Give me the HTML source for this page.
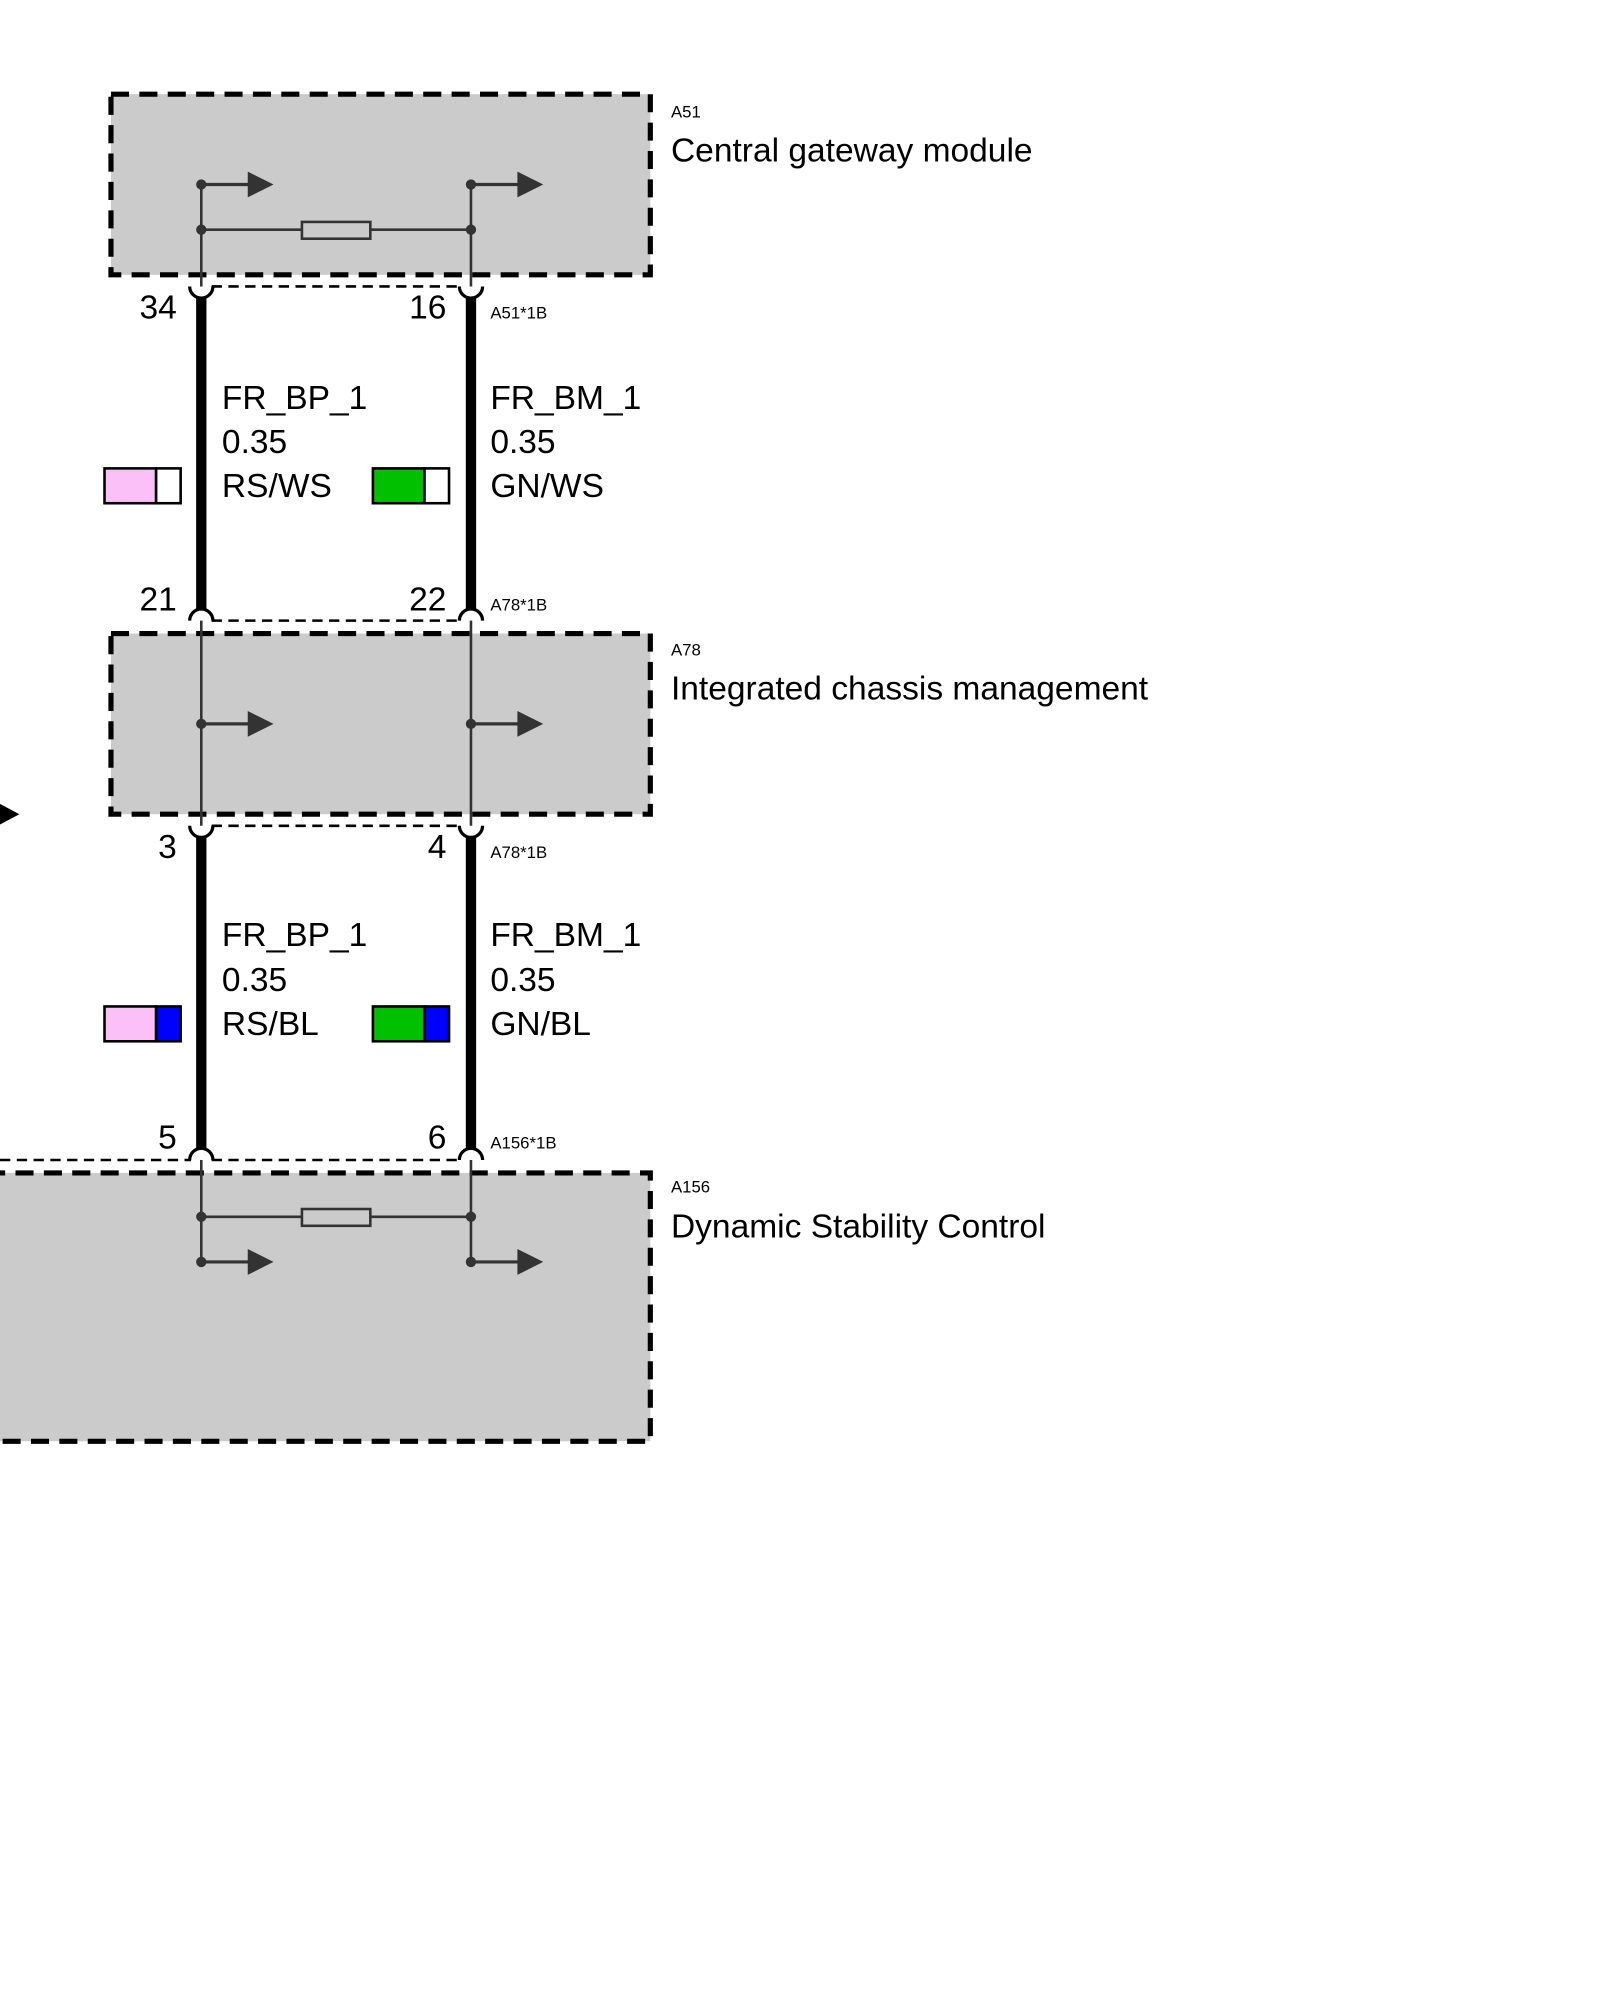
<!DOCTYPE html>
<html><head><meta charset="utf-8"><style>html,body{margin:0;padding:0;background:#fff}svg{display:block}</style></head>
<body>
<svg width="1600" height="2000" viewBox="0 0 1240 1550" xmlns="http://www.w3.org/2000/svg" font-family="Liberation Sans, Arial, sans-serif">
<defs>
<g id="arr"><line x1="0" y1="0" x2="38" y2="0" stroke="#333" stroke-width="2.5"/><polygon points="36,-10 56,0 36,10" fill="#333"/><circle cx="0" cy="0" r="4" fill="#333"/></g>
</defs>
<!-- boxes -->
<rect x="86" y="73" width="418" height="140" fill="#cbcbcb" stroke="#000" stroke-width="4" stroke-dasharray="14,8"/>
<rect x="86" y="491" width="418" height="140" fill="#cbcbcb" stroke="#000" stroke-width="4" stroke-dasharray="14,8"/>
<rect x="-10" y="909" width="514" height="208" fill="#cbcbcb" stroke="#000" stroke-width="4" stroke-dasharray="14,8"/>
<!-- A51 internals -->
<line x1="156" y1="143" x2="156" y2="222" stroke="#333" stroke-width="2"/>
<line x1="365" y1="143" x2="365" y2="222" stroke="#333" stroke-width="2"/>
<line x1="156" y1="178" x2="365" y2="178" stroke="#333" stroke-width="2"/>
<rect x="234" y="172" width="53" height="13" fill="#cbcbcb" stroke="#333" stroke-width="2"/>
<circle cx="156" cy="178" r="4" fill="#333"/><circle cx="365" cy="178" r="4" fill="#333"/>
<use href="#arr" x="156" y="143"/><use href="#arr" x="365" y="143"/>
<!-- A78 internals -->
<line x1="156" y1="481" x2="156" y2="640" stroke="#333" stroke-width="2"/>
<line x1="365" y1="481" x2="365" y2="640" stroke="#333" stroke-width="2"/>
<use href="#arr" x="156" y="561"/><use href="#arr" x="365" y="561"/>
<polygon points="0,623 15,631 0,639" fill="#000"/>
<!-- A156 internals -->
<line x1="156" y1="899" x2="156" y2="978" stroke="#333" stroke-width="2"/>
<line x1="365" y1="899" x2="365" y2="978" stroke="#333" stroke-width="2"/>
<line x1="156" y1="943" x2="365" y2="943" stroke="#333" stroke-width="2"/>
<rect x="234" y="937" width="53" height="13" fill="#cbcbcb" stroke="#333" stroke-width="2"/>
<circle cx="156" cy="943" r="4" fill="#333"/><circle cx="365" cy="943" r="4" fill="#333"/>
<use href="#arr" x="156" y="978"/><use href="#arr" x="365" y="978"/>
<!-- connector dashed lines -->
<g stroke="#000" stroke-width="2" stroke-dasharray="8,5" fill="none">
<line x1="164" y1="222" x2="357" y2="222"/>
<line x1="164" y1="481" x2="357" y2="481"/>
<line x1="164" y1="640" x2="357" y2="640"/>
<line x1="0" y1="899" x2="148" y2="899"/>
<line x1="164" y1="899" x2="357" y2="899"/>
</g>
<!-- pin arcs -->
<g stroke="#000" stroke-width="2.5" fill="none">
<path d="M147 222 A9 9 0 0 0 165 222"/><path d="M356 222 A9 9 0 0 0 374 222"/>
<path d="M147 481 A9 9 0 0 1 165 481"/><path d="M356 481 A9 9 0 0 1 374 481"/>
<path d="M147 640 A9 9 0 0 0 165 640"/><path d="M356 640 A9 9 0 0 0 374 640"/>
<path d="M147 899 A9 9 0 0 1 165 899"/><path d="M356 899 A9 9 0 0 1 374 899"/>
</g>
<!-- wires -->
<g stroke="#000" stroke-width="8">
<line x1="156" y1="230" x2="156" y2="473"/><line x1="365" y1="230" x2="365" y2="473"/>
<line x1="156" y1="648" x2="156" y2="891"/><line x1="365" y1="648" x2="365" y2="891"/>
</g>
<!-- swatches -->
<g stroke="#000" stroke-width="2">
<rect x="81" y="363" width="40" height="27" fill="#fbc0f8"/><rect x="121" y="363" width="19" height="27" fill="#fff"/>
<rect x="289" y="363" width="40" height="27" fill="#00c000"/><rect x="329" y="363" width="19" height="27" fill="#fff"/>
<rect x="81" y="780" width="40" height="27" fill="#fbc0f8"/><rect x="121" y="780" width="19" height="27" fill="#0000ff"/>
<rect x="289" y="780" width="40" height="27" fill="#00c000"/><rect x="329" y="780" width="19" height="27" fill="#0000ff"/>
</g>
<!-- text -->
<g font-size="26" fill="#000">
<text x="137" y="247" text-anchor="end">34</text><text x="346" y="247" text-anchor="end">16</text>
<text x="137" y="473" text-anchor="end">21</text><text x="346" y="473" text-anchor="end">22</text>
<text x="137" y="665" text-anchor="end">3</text><text x="346" y="665" text-anchor="end">4</text>
<text x="137" y="890" text-anchor="end">5</text><text x="346" y="890" text-anchor="end">6</text>
<text x="172" y="317">FR_BP_1</text><text x="172" y="351">0.35</text><text x="172" y="385">RS/WS</text>
<text x="380" y="317">FR_BM_1</text><text x="380" y="351">0.35</text><text x="380" y="385">GN/WS</text>
<text x="172" y="733">FR_BP_1</text><text x="172" y="768">0.35</text><text x="172" y="802">RS/BL</text>
<text x="380" y="733">FR_BM_1</text><text x="380" y="768">0.35</text><text x="380" y="802">GN/BL</text>
<text x="520" y="125">Central gateway module</text>
<text x="520" y="542">Integrated chassis management</text>
<text x="520" y="959">Dynamic Stability Control</text>
</g>
<g font-size="13" fill="#000">
<text x="520" y="91">A51</text><text x="520" y="508">A78</text><text x="520" y="924">A156</text>
<text x="380" y="247">A51*1B</text><text x="380" y="473">A78*1B</text>
<text x="380" y="665">A78*1B</text><text x="380" y="890">A156*1B</text>
</g>
</svg>
</body></html>
